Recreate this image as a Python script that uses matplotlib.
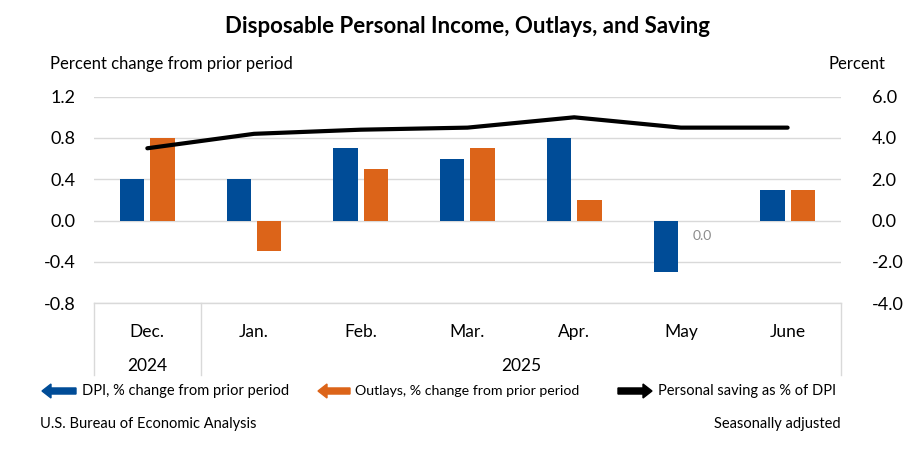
import numpy as np
import matplotlib.pyplot as plt
import matplotlib.transforms as mtransforms
from matplotlib.patches import FancyArrow
from matplotlib.lines import Line2D

plt.rcParams['font.family'] = ['Lato', 'DejaVu Sans']

# data
months = ['Dec.', 'Jan.', 'Feb.', 'Mar.', 'Apr.', 'May', 'June']
dpi_change = [0.4, 0.4, 0.7, 0.6, 0.8, -0.5, 0.3]
outlays_change = [0.8, -0.3, 0.5, 0.7, 0.2, 0.0, 0.3]
saving_rate = [3.5, 4.2, 4.4, 4.5, 5.0, 4.5, 4.5]
left_ticks = [-0.8, -0.4, 0.0, 0.4, 0.8, 1.2]
right_ticks = [-4.0, -2.0, 0.0, 2.0, 4.0, 6.0]

blue = '#004c97'
orange = '#dc6419'
grid_c = '#d9d9d9'

fig = plt.figure(figsize=(9.15, 4.67), dpi=100)
ax = fig.add_axes([0.1027, 0.351, 0.8164, 0.442])
ax2 = ax.twinx()

x = np.arange(len(months))
w = 0.228
off = 0.142
ax.bar(x - off, dpi_change, w, color=blue, zorder=3)
ax.bar(x + off, outlays_change, w, color=orange, zorder=3)

# label for the zero outlays bar in May
ax.text(x[5] + off + 0.06, -0.15, f'{outlays_change[5]:.1f}', color='#8c8c8c',
        fontsize=10, ha='center', va='center')

ax2.plot(x, saving_rate, color='black', lw=3, solid_capstyle='round', zorder=4)

ax.set_xlim(-0.5, len(months) - 0.5)
ax.set_ylim(-0.8, 1.2)
ax2.set_ylim(-4, 6)
ax.set_yticks(left_ticks)
ax.set_yticklabels([f'{v:.1f}' for v in left_ticks], fontsize=13)
ax2.set_yticks(right_ticks)
ax2.set_yticklabels([f'{v:.1f}' for v in right_ticks], fontsize=13)
ax.yaxis.grid(True, color=grid_c, lw=1, zorder=0)
ax.set_axisbelow(True)

for a in (ax, ax2):
    for s in a.spines.values():
        s.set_visible(False)
    a.tick_params(axis='y', length=0)
ax.tick_params(axis='y', pad=13)
ax2.tick_params(axis='y', pad=22)

ax.set_xticks(x)
ax.set_xticklabels(months, fontsize=12.5)
ax.tick_params(axis='x', length=0, pad=15)

# category table lines below the plot
trans = mtransforms.blended_transform_factory(ax.transData, ax.transAxes)
for xv in [-0.5, 0.5, len(months) - 0.5]:
    ax.add_line(Line2D([xv, xv], [0, -0.35], transform=trans, color=grid_c,
                       lw=1, clip_on=False))
ax.add_line(Line2D([-0.5, len(months) - 0.5], [0, 0], transform=trans,
                   color=grid_c, lw=1, clip_on=False))
ax.text(0, -0.305, '2024', transform=trans, ha='center', va='center', fontsize=12.5)
ax.text(3.5, -0.305, '2025', transform=trans, ha='center', va='center', fontsize=12.5)

fig.text(0.511, 0.943, 'Disposable Personal Income, Outlays, and Saving',
         ha='center', va='center', fontsize=16, fontweight='bold')
fig.text(0.055, 0.862, 'Percent change from prior period', ha='left',
         va='center', fontsize=12)
fig.text(0.968, 0.862, 'Percent', ha='right', va='center', fontsize=12)

# legend
ly = 1 - 391 / 467
fig.patches.append(FancyArrow(76 / 915, ly, -34 / 915, 0, width=0.013,
                              head_width=0.03, head_length=9 / 915,
                              length_includes_head=True, color=blue,
                              transform=fig.transFigure))
fig.text(82 / 915, ly, 'DPI, % change from prior period', va='center', fontsize=10.5)
fig.patches.append(FancyArrow(350 / 915, ly, -32 / 915, 0, width=0.013,
                              head_width=0.03, head_length=9 / 915,
                              length_includes_head=True, color=orange,
                              transform=fig.transFigure))
fig.text(355 / 915, ly, 'Outlays, % change from prior period', va='center', fontsize=10.2)
fig.patches.append(FancyArrow(618 / 915, ly, 34 / 915, 0, width=0.013,
                              head_width=0.03, head_length=9 / 915,
                              length_includes_head=True, color='black',
                              transform=fig.transFigure))
fig.text(658 / 915, ly, 'Personal saving as % of DPI', va='center', fontsize=10.5)

fig.text(40 / 915, 1 - 424 / 467, 'U.S. Bureau of Economic Analysis',
         va='center', fontsize=10.5)
fig.text(841 / 915, 1 - 424 / 467, 'Seasonally adjusted', ha='right',
         va='center', fontsize=10.5)

fig.savefig('out.png', dpi=100)
